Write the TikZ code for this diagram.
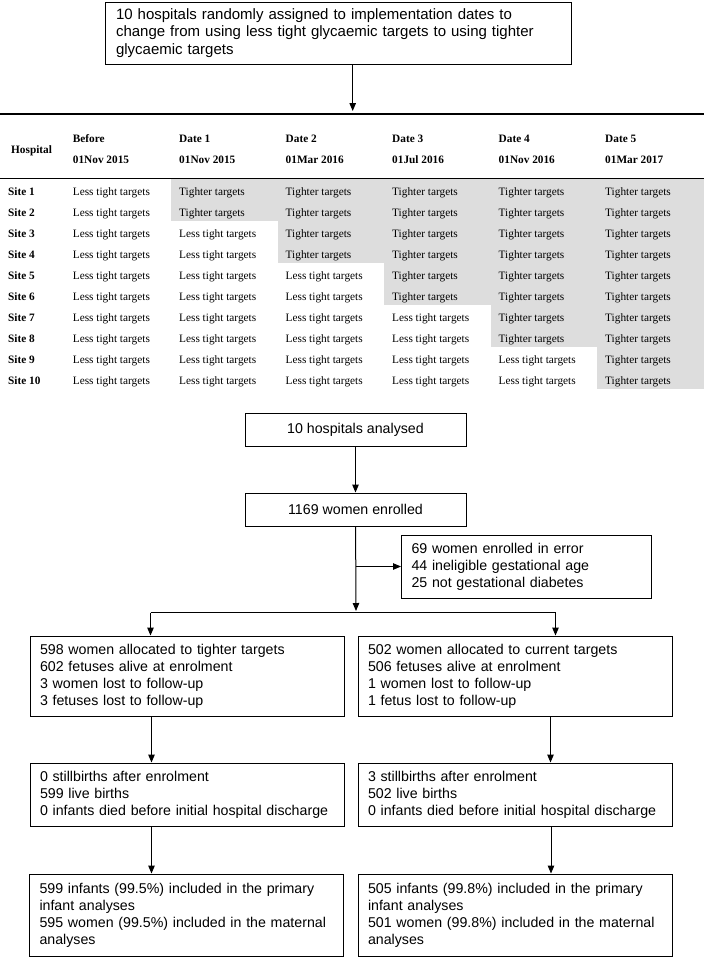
\documentclass[tikz,border=0pt]{standalone}
\usepackage{fontspec}
\setmainfont{Liberation Serif}
\newfontfamily\arialfont{Liberation Sans}
\usepackage{xcolor}
\usepackage{tikz}
\usetikzlibrary{positioning,calc,arrows.meta}

\definecolor{shadegray}{RGB}{221,221,221}

\tikzset{
  box/.style={draw, line width=1pt, font=\arialfont\fontsize{14.2}{17}\selectfont,
    align=left, inner xsep=10pt, inner ysep=0pt},
  arr/.style={-{Triangle[width=6.5pt,length=8pt]}, line width=1pt},
  cell/.style={anchor=base west, inner sep=0pt, font=\fontsize{11.3}{13}\selectfont},
  head/.style={cell, font=\bfseries\fontsize{11.3}{13}\selectfont},
}

\begin{document}
\begin{tikzpicture}[x=1pt,y=-1pt]
    \useasboundingbox (0,0) rectangle (704,959);

    % randomisation
    \node[box, text width=444pt, inner xsep=11pt, minimum height=62pt,
          font=\arialfont\fontsize{15}{17.3}\selectfont] (assign) at (338,33)
        {10 hospitals randomly assigned to implementation dates to\\
         change from using less tight glycaemic targets to using tighter\\
         glycaemic targets};
    \coordinate (tabtop) at (352.7,111);
    \draw[arr] (assign.south -| tabtop) -- (tabtop);

    % stepped wedge table
    \foreach \c in {1,...,5}
        \fill[shadegray] ({171+106.5*(\c-1)},179) rectangle ++(106.5,{41.9*\c});
    \draw[line width=1.6pt] (0,114) -- (704,114);
    \draw[line width=1.3pt] (0,178.3) -- (704,178.3);

    \node[head] (hhosp) at (11,153.5) {Hospital};
    \node[head] (hbef) at (72.7,142.7) {Before};
    \node[head] (hbefd) at (72.7,163.3) {01Nov 2015};
    \foreach \c/\d in {1/01Nov 2015,2/01Mar 2016,3/01Jul 2016,4/01Nov 2016,5/01Mar 2017} {
        \node[head] (hd\c) at ({179+106.5*(\c-1)},142.7) {Date \c};
        \node[head] (hdd\c) at ({179+106.5*(\c-1)},163.3) {\d};
    }
    \foreach \r in {1,...,10} {
        \node[head] (site\r) at (8,{175+20.95*\r}) {Site \r};
        \node[cell] (c\r-0) at (72.7,{175+20.95*\r}) {Less tight targets};
        \foreach \c in {1,...,5} {
            \ifnum\r>\numexpr2*\c\relax
                \def\celltext{Less tight targets}
            \else
                \def\celltext{Tighter targets}
            \fi
            \node[cell] (c\r-\c) at ({179+106.5*(\c-1)},{175+20.95*\r}) {\celltext};
        }
    }

    % flow of participants
    \node[box, minimum width=221pt, minimum height=33pt] (hosp) at (355.5,429.5) {10 hospitals analysed};
    \node[box, minimum width=221pt, minimum height=33pt] (enrol) at (355.5,509.5) {1169 women enrolled};
    \node[box, text width=230pt, minimum height=63pt] (excl) at (526.5,566.5)
        {69 women enrolled in error\\44 ineligible gestational age\\25 not gestational diabetes};

    \node[box, text width=294pt, minimum height=80pt] (tight) at (187,676)
        {598 women allocated to tighter targets\\602 fetuses alive at enrolment\\
         3 women lost to follow-up\\3 fetuses lost to follow-up};
    \node[box, text width=294pt, minimum height=80pt] (curr) at (515,676)
        {502 women allocated to current targets\\506 fetuses alive at enrolment\\
         1 women lost to follow-up\\1 fetus lost to follow-up};

    \node[box, text width=294pt, minimum height=63pt] (stillL) at (187,794.5)
        {0 stillbirths after enrolment\\599 live births\\
         0 infants died before initial hospital discharge};
    \node[box, text width=294pt, minimum height=63pt] (stillR) at (515,794.5)
        {3 stillbirths after enrolment\\502 live births\\
         0 infants died before initial hospital discharge};

    \node[box, text width=294pt, minimum height=82pt] (inclL) at (186.5,915)
        {599 infants (99.5\%) included in the primary\\infant analyses\\
         595 women (99.5\%) included in the maternal\\analyses};
    \node[box, text width=294pt, minimum height=82pt] (inclR) at (515,915)
        {505 infants (99.8\%) included in the primary\\infant analyses\\
         501 women (99.8\%) included in the maternal\\analyses};

    \coordinate (split) at (356,611);
    \coordinate (splitL) at (150.5,612.5);
    \coordinate (splitR) at (555.5,612.5);

    \draw[arr] (hosp) -- (enrol);
    \draw[arr] (enrol) -- (split);
    \draw[arr] (enrol.south |- excl.west) -- (excl.west);
    \draw[line width=1pt] (splitL) -- (splitR);
    \draw[arr] (splitL) -- (splitL |- tight.north);
    \draw[arr] (splitR) -- (splitR |- curr.north);
    \draw[arr] ([xshift=-35.5pt]tight.south) -- ([xshift=-35.5pt]stillL.north);
    \draw[arr] ([xshift=35.5pt]curr.south) -- ([xshift=35.5pt]stillR.north);
    \draw[arr] ([xshift=-35.5pt]stillL.south) -- ([xshift=-35pt]inclL.north);
    \draw[arr] ([xshift=36pt]stillR.south) -- ([xshift=36pt]inclR.north);
\end{tikzpicture}
\end{document}
